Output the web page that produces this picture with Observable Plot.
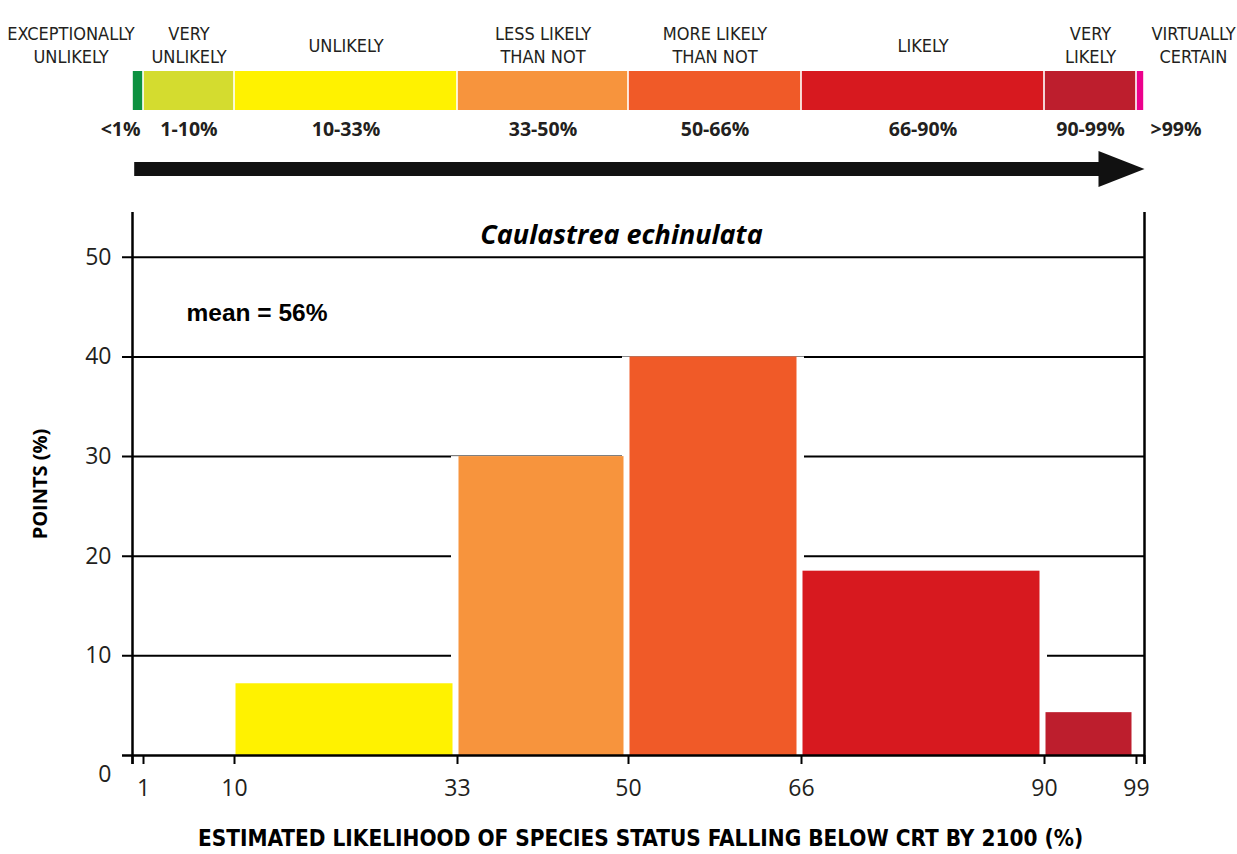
<!DOCTYPE html>
<html>
<head>
<meta charset="utf-8">
<script src="https://cdn.jsdelivr.net/npm/d3@7"></script>
<script src="https://cdn.jsdelivr.net/npm/@observablehq/plot@0.6"></script>
<style>
  body { margin: 0; background: #fff; }
  #chart { width: 1237px; }
  #chart svg { display: block; }
</style>
</head>
<body>
<div id="chart"></div>
<script>
// ---- data ----
const categoryLabels = ["EXCEPTIONALLY\nUNLIKELY", "VERY\nUNLIKELY", "UNLIKELY", "LESS LIKELY\nTHAN NOT", "MORE LIKELY\nTHAN NOT", "LIKELY", "VERY\nLIKELY", "VIRTUALLY\nCERTAIN"];
const rangeLabels = ["<1%", "1-10%", "10-33%", "33-50%", "50-66%", "66-90%", "90-99%", ">99%"];
const binLo = [0, 1, 10, 33, 50, 66, 90, 99];
const binHi = [1, 10, 33, 50, 66, 90, 99, 100];
const pointsPct = [0, 0, 7.2, 30, 40, 18.5, 4.3, 0];
const xTicks = [0, 1, 10, 33, 50, 66, 90, 99, 100];
const xTickLabels = ["", "1", "10", "33", "50", "66", "90", "99", ""];
const yTicks = [10, 20, 30, 40, 50];
const title = "Caulastrea echinulata";
const meanText = "mean = 56%";
const xTitle = "ESTIMATED LIKELIHOOD OF SPECIES STATUS FALLING BELOW CRT BY 2100 (%)";
const yTitle = "POINTS (%)";

// ---- derived tables ----
const bins = binLo.map((lo, i) => ({lo, hi: binHi[i], mid: (lo + binHi[i]) / 2, cat: categoryLabels[i], range: rangeLabels[i], value: pointsPct[i], i}));
const tickLabelMap = new Map(xTicks.map((t, i) => [t, xTickLabels[i]]));

const xScale = {type: "linear", domain: xTicks, range: [132, 143, 234, 457, 628, 801, 1044, 1136, 1144], axis: null};
const colorScale = {domain: rangeLabels, range: ["#0c9140", "#d4dc2f", "#fff200", "#f7943d", "#f05a28", "#d7191f", "#bd1e2d", "#ec008c"]};
const dark = "#231f20";
const humanist = "'Open Sans', 'Noto Sans', sans-serif";
const narrow = "'Liberation Sans Narrow', 'DejaVu Sans Condensed', 'Open Sans', sans-serif";

// ---- top likelihood band ----
const arrowHead = {draw(ctx, l, r) { ctx.moveTo(-r, 0); ctx.lineTo(0, -l); ctx.lineTo(r, 0); ctx.closePath(); }};
const catText = {y: () => "label", text: "cat", dy: -7.5, fontSize: 18, lineHeight: 1.25, fontFamily: narrow, fill: dark};
const pctText = {y: () => "pct", text: "range", fontSize: 19.5, fontWeight: "bold", fill: dark};
const band = Plot.plot({
  width: 1237, height: 195, margin: 0,
  x: xScale,
  y: {type: "band", domain: ["label", "bar", "pct", "arrow"], range: [32, 188], padding: 0, axis: null},
  color: colorScale,
  style: {fontFamily: humanist, color: dark, background: "#fff"},
  marks: [
    Plot.ruleX(binLo.slice(1), {x: d => d, y: () => "label", stroke: "#333", strokeWidth: 2, strokeDasharray: "11,14", insetTop: -28, insetBottom: -1}),
    Plot.barX(bins, {x1: "lo", x2: "hi", y: () => "bar", fill: "range", insetLeft: 0.8, insetRight: 0.8}),
    Plot.text(bins.filter(d => d.i > 0 && d.i < 7), {x: "mid", ...catText}),
    Plot.text(bins.filter(d => d.i === 0), {x: "mid", dx: -67, ...catText}),
    Plot.text(bins.filter(d => d.i === 7), {x: "mid", dx: 53, ...catText}),
    Plot.text(bins.filter(d => d.i > 0 && d.i < 7), {x: "mid", ...pctText}),
    Plot.text(bins.filter(d => d.i === 0), {x: "hi", textAnchor: "end", dx: -3, ...pctText}),
    Plot.text(bins.filter(d => d.i === 7), {x: "hi", textAnchor: "start", dx: 6, ...pctText}),
    Plot.ruleY([0], {x1: 0.2, x2: 95.5, y: () => "arrow", stroke: "#111", strokeWidth: 14}),
    Plot.vector([100], {x: d => d, y: () => "arrow", anchor: "end", rotate: 90, length: 46, r: 18, shape: arrowHead, fill: "#111", stroke: "none"})
  ]
});

// ---- main histogram ----
const shown = bins.filter(d => d.value > 0);
const main = Plot.plot({
  width: 1237, height: 659,
  marginLeft: 122, marginRight: 93, marginTop: 17, marginBottom: 99,
  x: xScale,
  y: {domain: [0, 54.5], axis: null},
  color: colorScale,
  style: {fontFamily: humanist, color: dark, background: "#fff", overflow: "visible"},
  marks: [
    Plot.ruleY(yTicks, {stroke: "#000", strokeWidth: 2}),
    Plot.rectY(shown, {x1: "lo", x2: "hi", y1: 0, y2: "value", fill: "#fff", insetLeft: -6, insetRight: -3}),
    Plot.rectY(shown, {x1: "lo", x2: "hi", y1: 0, y2: "value", fill: "range", insetLeft: 1.5, insetRight: 4.5}),
    Plot.ruleX([0, 100], {stroke: "#000", strokeWidth: 2.5, insetBottom: -9}),
    Plot.ruleY([0], {stroke: "#000", strokeWidth: 2.5}),
    Plot.axisX(xTicks, {label: null, tickSize: 9, tickPadding: 15, tickFormat: d => tickLabelMap.get(d), fontSize: 23, strokeWidth: 2, stroke: "#000", fill: dark}),
    Plot.axisY(yTicks, {label: null, tickSize: 0, tickPadding: 11, fontSize: 23, fill: dark}),
    Plot.axisY([0], {label: null, tickSize: 0, tickPadding: 11, dy: 19, fontSize: 23, fill: dark}),
    Plot.text([title], {frameAnchor: "top", textAnchor: "middle", lineAnchor: "middle", dx: -12, dy: 23, fontSize: 27, fontWeight: "bold", fontStyle: "italic", fill: "#000"}),
    Plot.text([meanText], {frameAnchor: "top-left", textAnchor: "start", lineAnchor: "middle", dx: 64, dy: 101, fontSize: 24.5, fontWeight: "bold", fontFamily: "'Liberation Sans', Arial, sans-serif", fill: "#000"}),
    Plot.text([yTitle], {frameAnchor: "left", textAnchor: "middle", lineAnchor: "middle", rotate: -90, dx: -82, fontSize: 20, fontWeight: "bold", fill: "#000"}),
    Plot.text([xTitle], {frameAnchor: "bottom", textAnchor: "middle", lineAnchor: "middle", dx: 7, dy: 83, fontSize: 22.4, fontWeight: "bold", fontFamily: narrow, fill: "#000"})
  ]
});

const chart = document.getElementById("chart");
chart.appendChild(band);
chart.appendChild(main);
</script>
</body>
</html>
